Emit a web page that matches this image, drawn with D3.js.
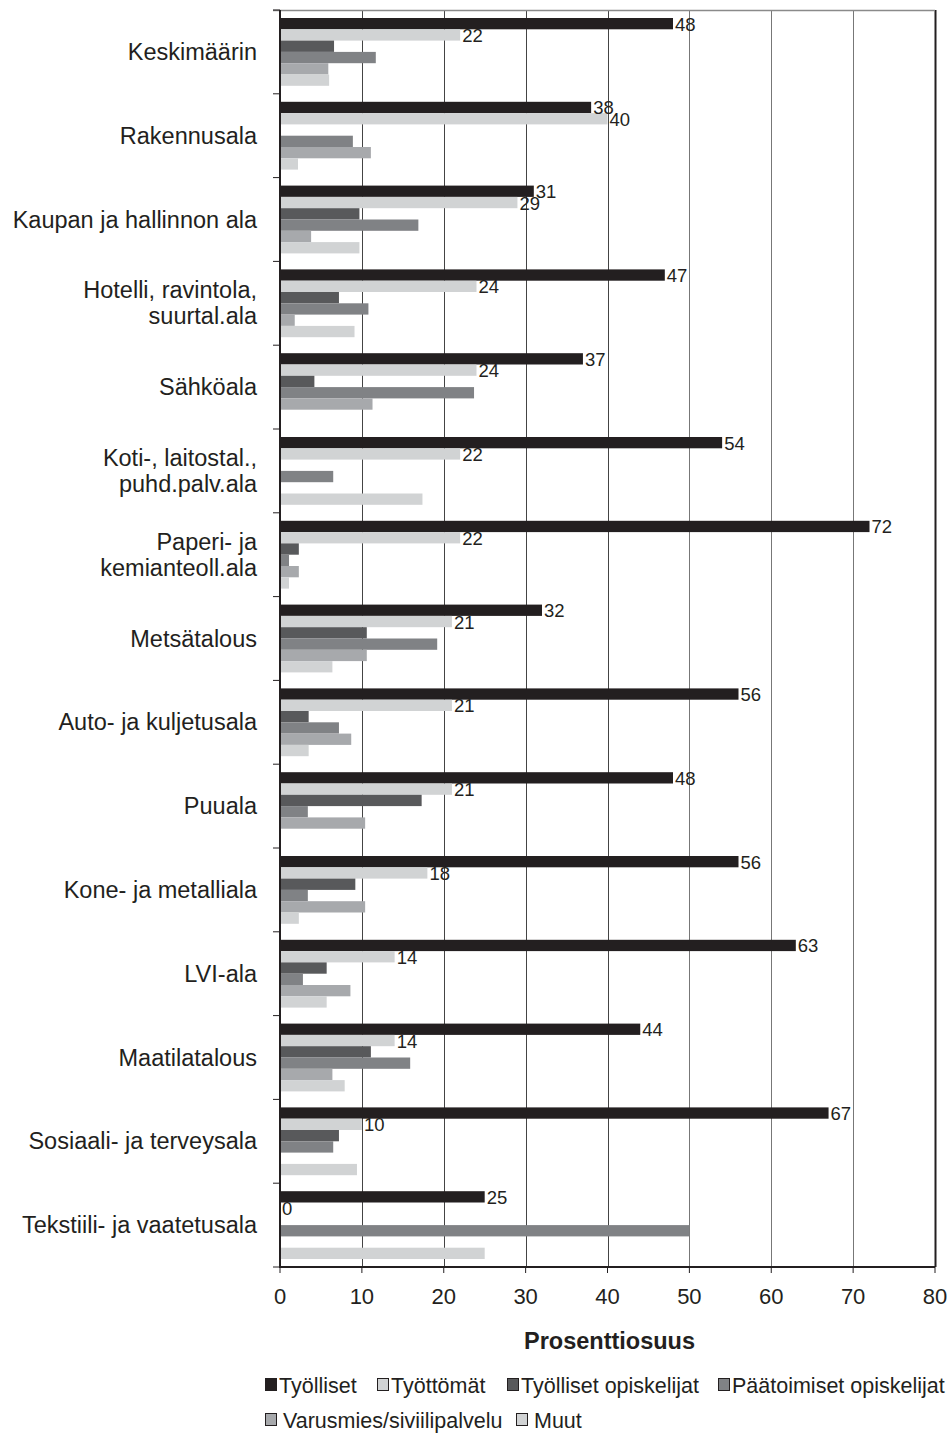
<!DOCTYPE html>
<html>
<head>
<meta charset="utf-8">
<script src="https://cdn.jsdelivr.net/npm/d3@7"></script>
<style>
  body { margin: 0; background: #fff; }
  text { font-family: "Liberation Sans", Arial, sans-serif; fill: #231f20; }
</style>
</head>
<body>
<div id="chart"></div>
<script>
// Categories (top to bottom), "\n" marks a line break in the label
const categories = [
    "Keskimäärin",
    "Rakennusala",
    "Kaupan ja hallinnon ala",
    "Hotelli, ravintola,\nsuurtal.ala",
    "Sähköala",
    "Koti-, laitostal.,\npuhd.palv.ala",
    "Paperi- ja\nkemianteoll.ala",
    "Metsätalous",
    "Auto- ja kuljetusala",
    "Puuala",
    "Kone- ja metalliala",
    "LVI-ala",
    "Maatilatalous",
    "Sosiaali- ja terveysala",
    "Tekstiili- ja vaatetusala"
];

const seriesNames = [
    "Työlliset",
    "Työttömät",
    "Työlliset opiskelijat",
    "Päätoimiset opiskelijat",
    "Varusmies/siviilipalvelu",
    "Muut"
];

// Values per series, one per category
const tyolliset      = [48, 38, 31, 47, 37, 54, 72, 32, 56, 48, 56, 63, 44, 67, 25];
const tyottomat      = [22, 40, 29, 24, 24, 22, 22, 21, 21, 21, 18, 14, 14, 10, 0];
const tyollOpisk     = [6.6, 0, 9.7, 7.2, 4.2, 0, 2.3, 10.6, 3.5, 17.3, 9.2, 5.7, 11.1, 7.2, 0];
const paatoimOpisk   = [11.7, 8.9, 16.9, 10.8, 23.7, 6.5, 1.1, 19.2, 7.2, 3.4, 3.4, 2.8, 15.9, 6.5, 50];
const varusmies      = [5.9, 11.1, 3.8, 1.8, 11.3, 0, 2.3, 10.6, 8.7, 10.4, 10.4, 8.6, 6.4, 0, 0];
const muut           = [6.0, 2.2, 9.7, 9.1, 0, 17.4, 1.1, 6.4, 3.5, 0, 2.3, 5.7, 7.9, 9.4, 25];

const seriesValues = [tyolliset, tyottomat, tyollOpisk, paatoimOpisk, varusmies, muut];
const labelledSeries = [0, 1];   // only these get value labels

const xTicks = [0, 10, 20, 30, 40, 50, 60, 70, 80];

const colors = ["#231f20", "#d1d3d4", "#58595b", "#808285", "#a7a9ac", "#d1d3d4"];

const width = 949;
const height = 1433;
const plotLeft = 280, plotRight = 935, plotTop = 10, plotBottom = 1267;

const svg = d3.select("#chart")
    .append("svg")
    .attr("width", width)
    .attr("height", height);

const x = d3.scaleLinear().domain([0, 80]).range([plotLeft, plotRight]);

const y = d3.scaleBand()
    .domain(d3.range(categories.length))
    .range([plotTop, plotBottom]);

const step = y.step();
const inner = d3.scaleBand()
    .domain(d3.range(seriesNames.length))
    .range([8, step - 8]);

// Grid lines
svg.append("g")
    .selectAll("line")
    .data(xTicks.filter(d => d > 0))
    .enter().append("line")
    .attr("x1", d => Math.round(x(d)) + 0.5)
    .attr("x2", d => Math.round(x(d)) + 0.5)
    .attr("y1", plotTop)
    .attr("y2", plotBottom)
    .attr("stroke", d => d === 80 ? "#231f20" : (d >= 50 ? "#777" : "#444"))
    .attr("stroke-width", d => d === 80 ? 2 : 1);

// Top border
svg.append("line")
    .attr("x1", plotLeft - 7).attr("x2", plotRight)
    .attr("y1", plotTop + 0.5).attr("y2", plotTop + 0.5)
    .attr("stroke", "#8a8a8a")
    .attr("stroke-width", 1.5);

// Bars
const rows = [];
categories.forEach((c, i) => {
    seriesValues.forEach((vals, s) => {
        rows.push({ cat: i, s: s, v: vals[i] });
    });
});

svg.append("g")
    .selectAll("rect")
    .data(rows.filter(d => d.v > 0))
    .enter().append("rect")
    .attr("x", x(0))
    .attr("y", d => y(d.cat) + inner(d.s))
    .attr("width", d => x(d.v) - x(0))
    .attr("height", inner.bandwidth())
    .attr("fill", d => colors[d.s]);

// Value labels
svg.append("g")
    .selectAll("text")
    .data(rows.filter(d => labelledSeries.includes(d.s)))
    .enter().append("text")
    .attr("x", d => x(d.v) + 2)
    .attr("y", d => y(d.cat) + inner(d.s) + inner.bandwidth() / 2 + 7)
    .attr("font-size", "18.5px")
    .text(d => Math.round(d.v));

// Y axis line and ticks
svg.append("line")
    .attr("x1", plotLeft).attr("x2", plotLeft)
    .attr("y1", plotTop).attr("y2", plotBottom)
    .attr("stroke", "#231f20")
    .attr("stroke-width", 2);

svg.append("g")
    .selectAll("line")
    .data(d3.range(categories.length + 1))
    .enter().append("line")
    .attr("x1", plotLeft - 7).attr("x2", plotLeft)
    .attr("y1", d => plotTop + d * step)
    .attr("y2", d => plotTop + d * step)
    .attr("stroke", "#231f20")
    .attr("stroke-width", 1);

// Category labels
const catText = svg.append("g")
    .selectAll("text")
    .data(categories)
    .enter().append("text")
    .attr("text-anchor", "end")
    .attr("font-size", "23.5px")
    .attr("x", plotLeft - 23)
    .attr("y", (d, i) => y(i) + step / 2);

catText.each(function(d) {
    const lines = d.split("\n");
    const t = d3.select(this);
    lines.forEach((ln, k) => {
        t.append("tspan")
            .attr("x", plotLeft - 23)
            .attr("dy", k === 0 ? (8 - (lines.length - 1) * 13) : 26)
            .text(ln);
    });
});

// X axis
svg.append("line")
    .attr("x1", plotLeft - 1).attr("x2", plotRight)
    .attr("y1", plotBottom).attr("y2", plotBottom)
    .attr("stroke", "#231f20")
    .attr("stroke-width", 2);

svg.append("g")
    .selectAll("line")
    .data(xTicks)
    .enter().append("line")
    .attr("x1", d => x(d)).attr("x2", d => x(d))
    .attr("y1", plotBottom).attr("y2", plotBottom + 6)
    .attr("stroke", "#231f20");

svg.append("g")
    .selectAll("text")
    .data(xTicks)
    .enter().append("text")
    .attr("x", d => x(d))
    .attr("y", plotBottom + 37)
    .attr("text-anchor", "middle")
    .attr("font-size", "22px")
    .text(d => d);

// Axis title
svg.append("text")
    .attr("x", (plotLeft + plotRight) / 2 + 2)
    .attr("y", plotBottom + 82)
    .attr("text-anchor", "middle")
    .attr("font-size", "23.5px")
    .attr("font-weight", "bold")
    .text("Prosenttiosuus");

// Legend
const legendPos = [
    { x: 265, y: 1385 }, { x: 377, y: 1385 }, { x: 507, y: 1385 }, { x: 718, y: 1385 },
    { x: 265, y: 1420 }, { x: 516, y: 1420 }
];

const legend = svg.append("g")
    .selectAll("g")
    .data(seriesNames)
    .enter().append("g")
    .attr("transform", (d, i) => `translate(${legendPos[i].x},${legendPos[i].y})`);

legend.append("rect")
    .attr("x", 0.5).attr("y", -6.5)
    .attr("width", 11).attr("height", 12)
    .attr("fill", (d, i) => colors[i])
    .attr("stroke", "#231f20")
    .attr("stroke-width", 1);

legend.append("text")
    .attr("x", (d, i) => i === 4 || i === 5 ? 18 : 14)
    .attr("y", 8)
    .attr("font-size", "21.5px")
    .text(d => d);
</script>
</body>
</html>
